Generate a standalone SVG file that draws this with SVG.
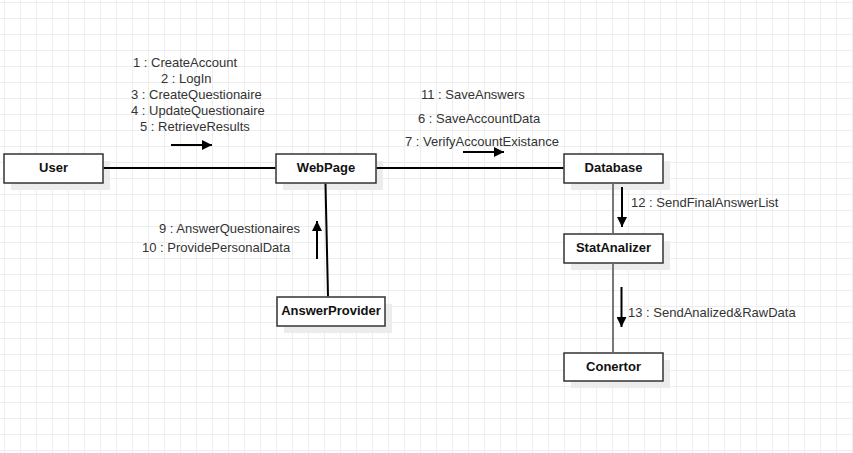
<svg xmlns="http://www.w3.org/2000/svg" width="853" height="453" viewBox="0 0 853 453">
<defs>
<pattern id="grid" x="4" y="2" width="16" height="16" patternUnits="userSpaceOnUse">
<path d="M0.5 0 V16 M0 0.5 H16" stroke="#eeeeee" stroke-width="1" fill="none"/>
</pattern>
<marker id="ah" viewBox="0 0 10 10" refX="10" refY="5" markerWidth="10" markerHeight="10" markerUnits="userSpaceOnUse" orient="auto">
<path d="M0 0 L10 5 L0 10 Z" fill="#000"/>
</marker>
</defs>
<style>
.shadow{fill:#ececec;}
.box{fill:#fff;stroke:#333;stroke-width:1.5;}
.name{font-family:"Liberation Sans",Arial,sans-serif;font-size:13px;font-weight:bold;fill:#111;text-anchor:middle;}
.msg{font-family:"Liberation Sans",Arial,sans-serif;font-size:13px;fill:#333;}
.link{stroke:#000;stroke-width:2;fill:none;}
.glink{stroke:#777;stroke-width:2;fill:none;}
.arr{stroke:#000;stroke-width:2;fill:none;marker-end:url(#ah);}
</style>
<rect width="853" height="453" fill="#fff"/>
<rect width="853" height="453" fill="url(#grid)"/>
<g id="User">
<rect class="shadow" x="11" y="161" width="99" height="29"/>
<rect class="box" x="4" y="154" width="99" height="29"/>
<text class="name" x="53.5" y="172">User</text>
</g>
<g id="WebPage">
<rect class="shadow" x="283" y="161" width="100" height="29"/>
<rect class="box" x="276" y="154" width="100" height="29"/>
<text class="name" x="326" y="172">WebPage</text>
</g>
<g id="Database">
<rect class="shadow" x="571" y="161" width="99" height="29"/>
<rect class="box" x="564" y="154" width="99" height="29"/>
<text class="name" x="613.5" y="172">Database</text>
</g>
<g id="StatAnalizer">
<rect class="shadow" x="571" y="241" width="99" height="29"/>
<rect class="box" x="564" y="234" width="99" height="29"/>
<text class="name" x="613.5" y="252">StatAnalizer</text>
</g>
<g id="AnswerProvider">
<rect class="shadow" x="284" y="304" width="108" height="29"/>
<rect class="box" x="277" y="297" width="108" height="29"/>
<text class="name" x="331" y="315">AnswerProvider</text>
</g>
<g id="Conertor">
<rect class="shadow" x="571" y="360" width="99" height="28"/>
<rect class="box" x="564" y="353" width="99" height="28"/>
<text class="name" x="613.5" y="371">Conertor</text>
</g>
<g id="connectors">
<line class="link" x1="103.75" y1="168" x2="275.25" y2="168"/>
<line class="link" x1="376.75" y1="168" x2="563.25" y2="168"/>
<line class="link" x1="325.5" y1="183.75" x2="328" y2="296.25"/>
<line class="glink" x1="613" y1="183.75" x2="613" y2="233.25"/>
<line class="glink" x1="613" y1="263.75" x2="613" y2="352.25"/>
<line class="arr" x1="171" y1="145" x2="212" y2="145"/>
<line class="arr" x1="463" y1="152" x2="504" y2="152"/>
<line class="arr" x1="317" y1="259" x2="317" y2="221"/>
<line class="arr" x1="622" y1="187" x2="622" y2="227"/>
<line class="arr" x1="621.5" y1="287" x2="621.5" y2="327"/>
<text class="msg" x="133" y="67">1 : CreateAccount</text>
<text class="msg" x="161" y="83">2 : LogIn</text>
<text class="msg" x="131" y="99">3 : CreateQuestionaire</text>
<text class="msg" x="131" y="115">4 : UpdateQuestionaire</text>
<text class="msg" x="140" y="131">5 : RetrieveResults</text>
<text class="msg" x="421" y="99">11 : SaveAnswers</text>
<text class="msg" x="418" y="123">6 : SaveAccountData</text>
<text class="msg" x="405" y="146">7 : VerifyAccountExistance</text>
<text class="msg" x="159" y="233">9 : AnswerQuestionaires</text>
<text class="msg" x="142" y="252">10 : ProvidePersonalData</text>
<text class="msg" x="631" y="207">12 : SendFinalAnswerList</text>
<text class="msg" x="628" y="317">13 : SendAnalized&amp;RawData</text>
</g>
</svg>
